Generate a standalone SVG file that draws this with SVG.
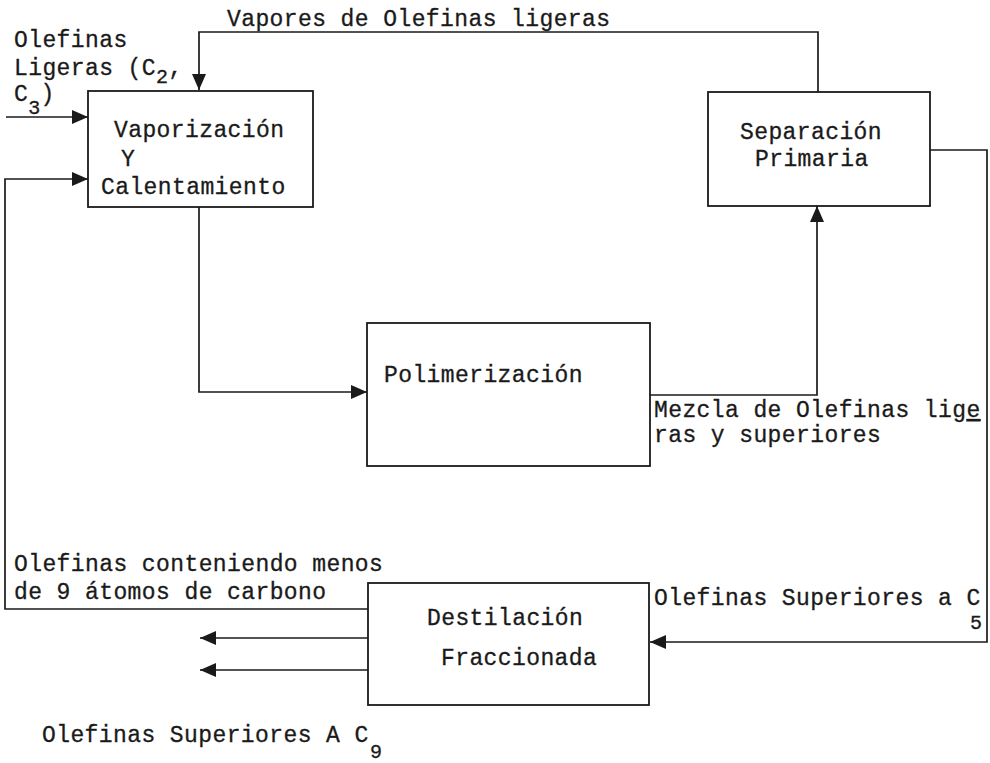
<svg xmlns="http://www.w3.org/2000/svg" width="990" height="763" viewBox="0 0 990 763">
  <style>
    .box { fill: #ffffff; stroke: #1a1a1a; stroke-width: 1.8; }
    .flow { fill: none; stroke: #1a1a1a; stroke-width: 1.7; }
    text { font-family: "Liberation Mono", "Courier New", monospace; font-size: 23px; letter-spacing: 0.4px; fill: #1a1a1a; stroke: #1a1a1a; stroke-width: 0.3; }
    .sub { font-size: 20px; }
  </style>
  <defs>
    <marker id="arrow" markerUnits="userSpaceOnUse" markerWidth="17" markerHeight="15" refX="16" refY="7" orient="auto">
      <path d="M0,0 L16,7 L0,14 Z" fill="#1a1a1a"/>
    </marker>
  </defs>

  <rect width="990" height="763" fill="#ffffff"/>

  <!-- connectors -->
  <g id="connectors">
    <path class="flow" d="M6,117 H88" marker-end="url(#arrow)"/>
    <path class="flow" d="M818,92 V32 H199 V90" marker-end="url(#arrow)"/>
    <path class="flow" d="M199,207 V392 H367" marker-end="url(#arrow)"/>
    <path class="flow" d="M650,395 H817 V206" marker-end="url(#arrow)"/>
    <path class="flow" d="M930,150 H987 V642 H650" marker-end="url(#arrow)"/>
    <path class="flow" d="M368,609 H5 V179 H88" marker-end="url(#arrow)"/>
    <path class="flow" d="M368,638 H200" marker-end="url(#arrow)"/>
    <path class="flow" d="M368,670 H200" marker-end="url(#arrow)"/>
  </g>

  <!-- stream labels -->
  <g id="labels">
    <text x="227" y="26">Vapores de Olefinas ligeras</text>
    <text x="14" y="47">Olefinas</text>
    <text x="14" y="75">Ligeras (C<tspan class="sub" dy="8">2</tspan><tspan dy="-8">,</tspan></text>
    <text x="14" y="101">C<tspan class="sub" dy="13">3</tspan><tspan dy="-13">)</tspan></text>
    <text x="654" y="417">Mezcla de Olefinas lig<tspan text-decoration="underline">e</tspan></text>
    <text x="654" y="442">ras y superiores</text>
    <text x="14" y="571">Olefinas conteniendo menos</text>
    <text x="14" y="599">de 9 átomos de carbono</text>
    <text x="654" y="605">Olefinas Superiores a C</text>
    <text class="sub" x="970" y="629">5</text>
    <text x="42" y="742">Olefinas Superiores A C</text>
    <text class="sub" x="370" y="758">9</text>
  </g>

  <g id="vaporizacion">
    <rect class="box" x="88" y="91" width="225" height="116"/>
    <text x="114" y="137">Vaporización</text>
    <text x="121" y="166">Y</text>
    <text x="101" y="194">Calentamiento</text>
  </g>

  <g id="separacion">
    <rect class="box" x="708" y="92" width="222" height="114"/>
    <text x="740" y="139">Separación</text>
    <text x="755" y="166">Primaria</text>
  </g>

  <g id="polimerizacion">
    <rect class="box" x="367" y="323" width="283" height="143"/>
    <text x="384" y="382">Polimerización</text>
  </g>

  <g id="destilacion">
    <rect class="box" x="368" y="583" width="281" height="122"/>
    <text x="427" y="625">Destilación</text>
    <text x="441" y="665">Fraccionada</text>
  </g>
</svg>
